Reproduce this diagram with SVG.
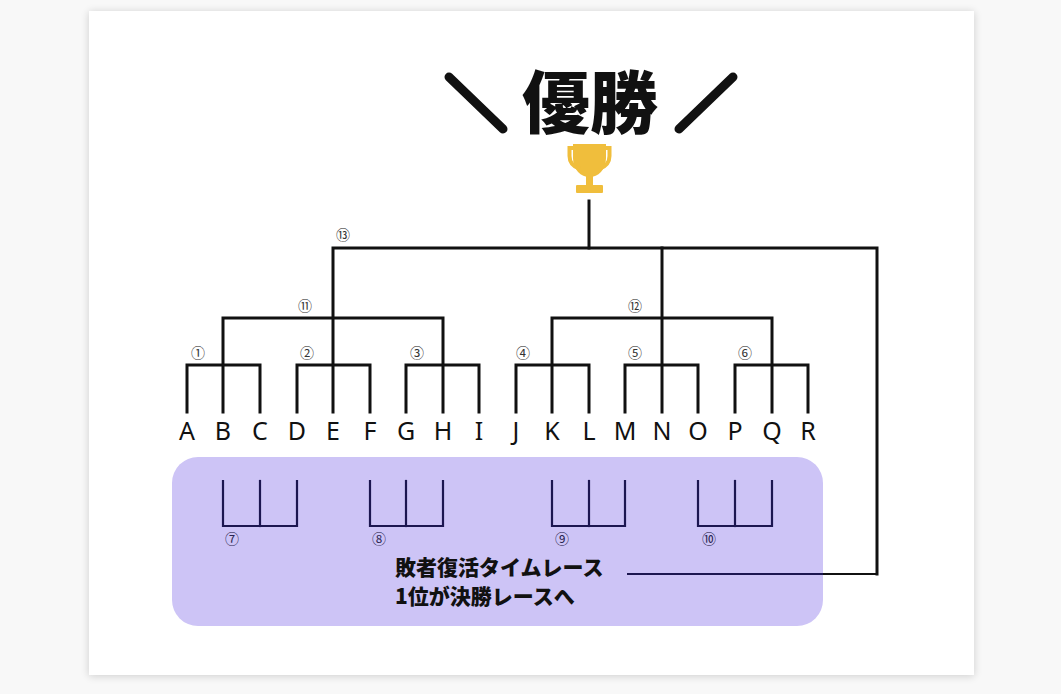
<svg xmlns="http://www.w3.org/2000/svg" width="1061" height="694" viewBox="0 0 1061 694">
<defs>
<filter id="sh" x="-5%" y="-5%" width="110%" height="110%">
<feGaussianBlur in="SourceAlpha" stdDeviation="4"/>
<feOffset dx="0" dy="1"/>
<feComponentTransfer><feFuncA type="linear" slope="0.18"/></feComponentTransfer>
<feMerge><feMergeNode/><feMergeNode in="SourceGraphic"/></feMerge>
</filter>
</defs>
<style>
.br{fill:none;stroke:#111;stroke-width:3;stroke-linecap:square}
.lb{fill:none;stroke:#1c1650;stroke-width:2.2;stroke-linecap:square}
.let{font-family:"Noto Sans","Noto Sans CJK JP",sans-serif;font-size:25px;fill:#111;text-anchor:middle}
.num{font-family:"Noto Sans CJK JP","Noto Sans",sans-serif;font-size:14px;fill:#333;text-anchor:middle}
.numn{font-family:"Noto Sans CJK JP","Noto Sans",sans-serif;font-size:14px;fill:#2a2450;text-anchor:middle}
.ttl{font-family:"Noto Sans CJK JP",sans-serif;font-weight:900;font-size:68px;fill:#111;text-anchor:middle}
.sub{font-family:"Noto Sans CJK JP",sans-serif;font-weight:900;font-size:21px;fill:#111}
.gold{fill:#f0be3c}
</style>
<rect width="1061" height="694" fill="#f8f8f8"/>
<rect x="89" y="11" width="885" height="664" fill="#ffffff" filter="url(#sh)"/>

<g id="title">
<line x1="449" y1="77" x2="503" y2="129" stroke="#111" stroke-width="9" stroke-linecap="round"/>
<text class="ttl" x="590" y="128">優勝</text>
<line x1="679" y1="129" x2="733" y2="77" stroke="#111" stroke-width="9" stroke-linecap="round"/>
</g>

<g id="trophy">
<path class="gold" d="M573,144 H606 V158 C606,170 598,177 589.5,177 C581,177 573,170 573,158 Z"/>
<path d="M574,148 H569.5 V156 C569.5,163 574,167 580,169" fill="none" stroke="#f0be3c" stroke-width="4"/>
<path d="M605,148 H609.5 V156 C609.5,163 605,167 599,169" fill="none" stroke="#f0be3c" stroke-width="4"/>
<rect class="gold" x="586" y="175" width="7" height="11"/>
<rect class="gold" x="576" y="185" width="27" height="8" rx="1"/>
</g>

<g id="loser-area">
<rect x="172" y="457" width="651" height="169" rx="26" fill="#cdc4f6"/>
</g>

<g id="connectors">
<polyline class="br" points="589,201 589,248"/>
<polyline class="br" points="333,412 333,248 877,248 877,574"/>
<line x1="662" y1="248" x2="662" y2="412" class="br"/>
<polyline class="br" points="223,412 223,318 443,318 443,412"/>
<polyline class="br" points="552,412 552,318 772,318 772,412"/>
<polyline class="br" points="187,412 187,365 260,365 260,412"/>
<polyline class="br" points="297,412 297,365 370,365 370,412"/>
<polyline class="br" points="406,412 406,365 479,365 479,412"/>
<polyline class="br" points="516,412 516,365 589,365 589,412"/>
<polyline class="br" points="625,412 625,365 698,365 698,412"/>
<polyline class="br" points="735,412 735,365 808,365 808,412"/>
<polyline class="lb" points="223,481 223,526 297,526 297,481"/>
<line class="lb" x1="260" y1="481" x2="260" y2="526"/>
<polyline class="lb" points="370,481 370,526 443,526 443,481"/>
<line class="lb" x1="406" y1="481" x2="406" y2="526"/>
<polyline class="lb" points="552,481 552,526 625,526 625,481"/>
<line class="lb" x1="589" y1="481" x2="589" y2="526"/>
<polyline class="lb" points="698,481 698,526 772,526 772,481"/>
<line class="lb" x1="735" y1="481" x2="735" y2="526"/>
<line x1="627" y1="574" x2="877" y2="574" stroke="#1c1650" stroke-width="2.2"/>
<line x1="823" y1="574" x2="877" y2="574" stroke="#111" stroke-width="2.2"/>
</g>

<g id="match-labels">
<text class="num" x="198" y="358">①</text>
<text class="num" x="307" y="358">②</text>
<text class="num" x="417" y="358">③</text>
<text class="num" x="523" y="358">④</text>
<text class="num" x="635" y="358">⑤</text>
<text class="num" x="745" y="358">⑥</text>
<text class="num" x="305" y="311">⑪</text>
<text class="num" x="635" y="311">⑫</text>
<text class="num" x="343" y="240">⑬</text>
<text class="numn" x="232" y="544">⑦</text>
<text class="numn" x="379" y="544">⑧</text>
<text class="numn" x="562" y="544">⑨</text>
<text class="numn" x="709" y="544">⑩</text>
</g>

<g id="node-A"><text class="let" x="187" y="440">A</text></g>
<g id="node-B"><text class="let" x="223" y="440">B</text></g>
<g id="node-C"><text class="let" x="260" y="440">C</text></g>
<g id="node-D"><text class="let" x="297" y="440">D</text></g>
<g id="node-E"><text class="let" x="333" y="440">E</text></g>
<g id="node-F"><text class="let" x="370" y="440">F</text></g>
<g id="node-G"><text class="let" x="406" y="440">G</text></g>
<g id="node-H"><text class="let" x="443" y="440">H</text></g>
<g id="node-I"><text class="let" x="479" y="440">I</text></g>
<g id="node-J"><text class="let" x="516" y="440">J</text></g>
<g id="node-K"><text class="let" x="552" y="440">K</text></g>
<g id="node-L"><text class="let" x="589" y="440">L</text></g>
<g id="node-M"><text class="let" x="625" y="440">M</text></g>
<g id="node-N"><text class="let" x="662" y="440">N</text></g>
<g id="node-O"><text class="let" x="698" y="440">O</text></g>
<g id="node-P"><text class="let" x="735" y="440">P</text></g>
<g id="node-Q"><text class="let" x="772" y="440">Q</text></g>
<g id="node-R"><text class="let" x="808" y="440">R</text></g>

<g id="loser-caption">
<text class="sub" x="395" y="575">敗者復活タイムレース</text>
<text class="sub" x="395" y="604">1位が決勝レースへ</text>
</g>
</svg>
